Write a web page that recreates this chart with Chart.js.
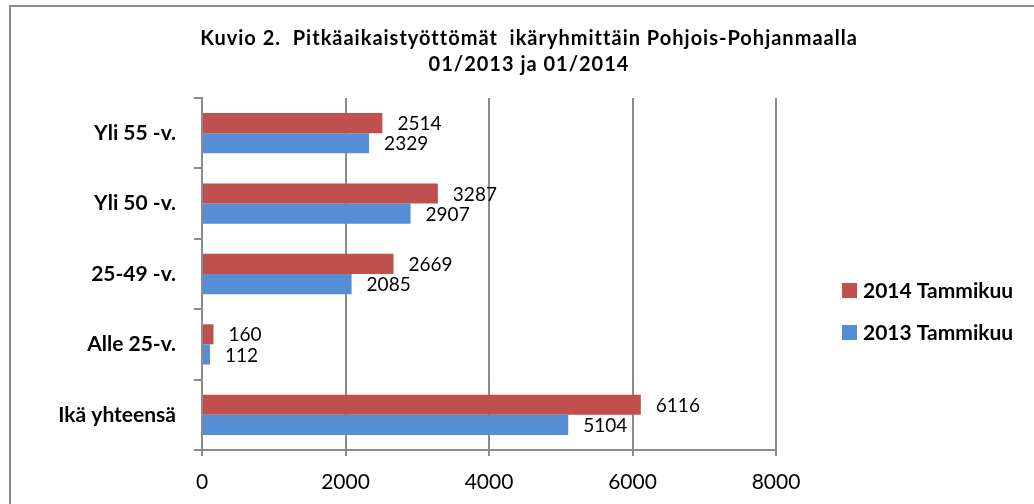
<!DOCTYPE html>
<html>
<head>
<meta charset="utf-8">
<script src="https://cdn.jsdelivr.net/npm/chart.js@4.4.1/dist/chart.umd.min.js"></script>
<style>
  html, body { margin: 0; padding: 0; background: #fff; }
  #kehys { position: absolute; left: 9px; top: 5px; width: 1100px; height: 600px;
           border-left: 2px solid #8c8c8c; border-top: 2px solid #8c8c8c; }
  #grafiikka { position: absolute; left: 0; top: 0; }
</style>
</head>
<body>
<div id="kehys"></div>
<canvas id="grafiikka" width="1034" height="504"></canvas>
<script>
const otsikko = ["Kuvio 2.  Pitkäaikaistyöttömät  ikäryhmittäin Pohjois-Pohjanmaalla", "01/2013 ja 01/2014"];
const ryhmat = ["Yli 55 -v.", "Yli 50 -v.", "25-49 -v.", "Alle 25-v.", "Ikä yhteensä"];
const tammikuu2014 = [2514, 3287, 2669, 160, 6116];
const tammikuu2013 = [2329, 2907, 2085, 112, 5104];
const sarjaNimet = ["2014 Tammikuu", "2013 Tammikuu"];
const xTikit = [0, 2000, 4000, 6000, 8000];

const fontti = "Lato, 'Open Sans', sans-serif";
const harmaa = "#8c8c8c";

// otsikko hieman harvennetulla kirjainvälillä
const otsikkoPlugin = {
  id: "otsikko",
  afterDraw(chart) {
    const ctx = chart.ctx;
    ctx.save();
    ctx.font = "bold 20px " + fontti;
    ctx.letterSpacing = "1px";
    ctx.fillStyle = "#000";
    ctx.textAlign = "center";
    ctx.textBaseline = "alphabetic";
    otsikko.forEach((rivi, i) => ctx.fillText(rivi, 529, 45 + i * 26));
    ctx.restore();
  }
};

// arvot palkkien perään
const arvoPlugin = {
  id: "arvot",
  afterDatasetsDraw(chart) {
    const ctx = chart.ctx;
    ctx.save();
    ctx.font = "19px " + fontti;
    ctx.fillStyle = "#000";
    ctx.textBaseline = "middle";
    ctx.textAlign = "left";
    chart.data.datasets.forEach((ds, i) => {
      chart.getDatasetMeta(i).data.forEach((bar, j) => {
        ctx.fillText(ds.data[j], bar.x + 15, bar.y + 1);
      });
    });
    ctx.restore();
  }
};

// selite oikealle kuten Excelissä
const selitePlugin = {
  id: "selite",
  afterDraw(chart) {
    const ctx = chart.ctx;
    const x = chart.chartArea.right + 66;
    ctx.save();
    ctx.font = "bold 21px " + fontti;
    ctx.textBaseline = "middle";
    chart.data.datasets.forEach((ds, i) => {
      const y = 290 + i * 42;
      ctx.fillStyle = ds.backgroundColor;
      ctx.fillRect(x, y - 7, 15, 15);
      ctx.fillStyle = "#000";
      ctx.fillText(ds.label, x + 21, y + 1);
    });
    ctx.restore();
  }
};

new Chart(document.getElementById("grafiikka"), {
  type: "bar",
  data: {
    labels: ryhmat,
    datasets: [
      { label: sarjaNimet[0], data: tammikuu2014, backgroundColor: "#C0504D" },
      { label: sarjaNimet[1], data: tammikuu2013, backgroundColor: "#558ED5" }
    ]
  },
  options: {
    indexAxis: "y",
    responsive: false,
    animation: false,
    categoryPercentage: 0.572,
    barPercentage: 1.0,
    layout: { padding: { left: 12, top: 98, right: 258, bottom: 0 } },
    plugins: {
      legend: { display: false },
      tooltip: { enabled: false },
      title: { display: false }
    },
    scales: {
      x: {
        min: 0,
        max: 8000,
        afterBuildTicks(scale) { scale.ticks = xTikit.map(v => ({ value: v })); },
        afterFit(scale) { scale.height = 54; },
        grid: { color: harmaa, lineWidth: 2, tickLength: 6 },
        border: { color: harmaa, width: 2 },
        ticks: {
          color: "#000",
          padding: 14,
          font: { family: fontti, size: 21 },
          callback: v => String(v)
        }
      },
      y: {
        afterFit(scale) { scale.width = 190; },
        grid: { drawOnChartArea: false, color: harmaa, lineWidth: 2, tickLength: 8 },
        border: { color: harmaa, width: 2 },
        ticks: { color: "#000", padding: 18, font: { family: fontti, size: 21, weight: "bold" } }
      }
    }
  },
  plugins: [arvoPlugin, selitePlugin, otsikkoPlugin]
});
</script>
</body>
</html>
